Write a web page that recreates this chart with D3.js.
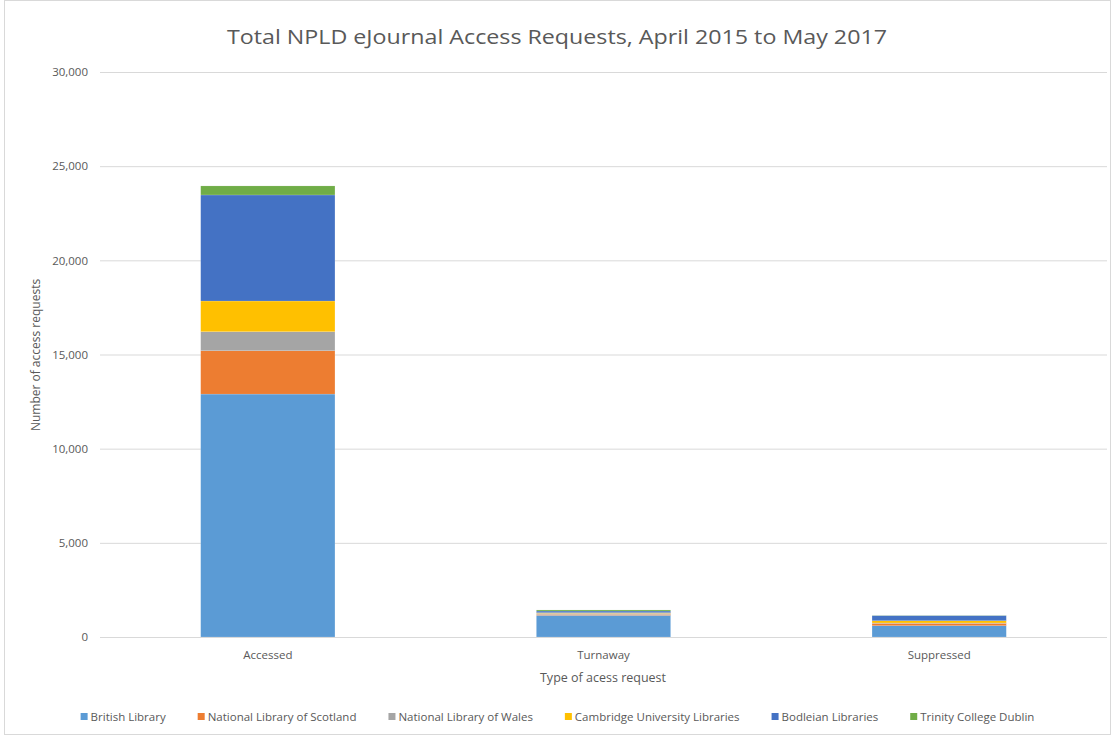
<!DOCTYPE html>
<html>
<head>
<meta charset="utf-8">
<script src="https://cdnjs.cloudflare.com/ajax/libs/d3/7.8.5/d3.min.js"></script>
<style>
  body { margin: 0; background: #fff; }
  text { font-family: "Open Sans", "Noto Sans", sans-serif; fill: #595959; }
</style>
</head>
<body>
<svg id="chart" width="1115" height="736"></svg>
<script>
// values
const categories = ["Accessed", "Turnaway", "Suppressed"];
const libraries = ["British Library", "National Library of Scotland", "National Library of Wales",
  "Cambridge University Libraries", "Bodleian Libraries", "Trinity College Dublin"];
const britishLibrary = [12900, 1150, 600];
const scotland = [2300, 50, 125];
const wales = [1010, 60, 20];
const cambridge = [1630, 30, 120];
const bodleian = [5630, 90, 270];
const trinity = [480, 55, 10];
const yTicks = [0, 5000, 10000, 15000, 20000, 25000, 30000];
const colors = ["#5B9BD5", "#ED7D31", "#A5A5A5", "#FFC000", "#4472C4", "#70AD47"];

let seriesValues = [britishLibrary, scotland, wales, cambridge, bodleian, trinity];
let rows = categories.map((c, i) => {
  let row = {category: c};
  libraries.forEach((lib, j) => row[lib] = seriesValues[j][i]);
  return row;
});

let svg = d3.select("#chart");
let plot = {left: 100, right: 1107, top: 72, bottom: 637};

// outer chart border
svg.append("rect")
  .attr("x", 4.5).attr("y", 0.5)
  .attr("width", 1106).attr("height", 734)
  .attr("fill", "none")
  .attr("stroke", "#d9d9d9");

let x = d3.scaleBand()
  .domain(categories)
  .range([plot.left, plot.right])
  .paddingInner(0.6)
  .paddingOuter(0.3);

let y = d3.scaleLinear()
  .domain([0, 30000])
  .range([plot.bottom, plot.top]);

// gridlines + y labels
let yAxis = svg.append("g")
  .attr("transform", "translate(" + plot.left + ",0)")
  .call(d3.axisLeft(y).tickValues(yTicks).tickSize(-(plot.right - plot.left)).tickPadding(12)
    .tickFormat(d3.format(",")));
yAxis.select(".domain").remove();
yAxis.selectAll("line").attr("stroke", "#d9d9d9");
yAxis.selectAll("text").attr("font-size", 11.5).attr("fill", "#595959")
  .style("font-family", "'Open Sans', sans-serif");

let stack = d3.stack().keys(libraries);
let layers = stack(rows);

svg.append("g")
  .selectAll("g")
  .data(layers)
  .enter()
  .append("g")
  .attr("fill", (d, i) => colors[i])
  .selectAll("rect")
  .data(d => d)
  .enter()
  .append("rect")
  .attr("x", d => x(d.data.category))
  .attr("width", x.bandwidth())
  .attr("y", d => y(d[1]))
  .attr("height", d => y(d[0]) - y(d[1]))
  .attr("stroke", "#fff")
  .attr("stroke-opacity", 0.6)
  .attr("stroke-width", 0.25);

// x axis
let xAxis = svg.append("g")
  .attr("transform", "translate(0," + plot.bottom + ")")
  .call(d3.axisBottom(x).tickSize(0).tickPadding(14));
xAxis.select(".domain").attr("stroke", "#d9d9d9").attr("d", "M" + plot.left + ",0.5H" + plot.right);
xAxis.selectAll("text").attr("font-size", 11.5).attr("fill", "#595959")
  .style("font-family", "'Open Sans', sans-serif");

// titles
svg.append("text")
  .attr("x", 557).attr("y", 44)
  .attr("text-anchor", "middle")
  .attr("font-size", 20)
  .attr("textLength", 660)
  .attr("lengthAdjust", "spacingAndGlyphs")
  .text("Total NPLD eJournal Access Requests, April 2015 to May 2017");

svg.append("text")
  .attr("x", 603).attr("y", 682)
  .attr("text-anchor", "middle")
  .attr("font-size", 12.5)
  .text("Type of acess request");

svg.append("text")
  .attr("transform", "translate(40,355) rotate(-90)")
  .attr("text-anchor", "middle")
  .attr("font-size", 12)
  .text("Number of access requests");

// legend, centred
let legend = svg.append("g").attr("transform", "translate(0,721)");
let items = legend.selectAll("g")
  .data(libraries)
  .enter()
  .append("g");
items.append("rect")
  .attr("width", 7).attr("height", 7)
  .attr("y", -8)
  .attr("fill", (d, i) => colors[i]);
items.append("text")
  .attr("x", 10).attr("y", 0)
  .attr("font-size", 11.5)
  .text(d => d);

let widths = [];
items.each(function() { widths.push(this.querySelector("text").getComputedTextLength() + 10); });
let gap = 32;
let total = d3.sum(widths) + gap * (widths.length - 1);
let pos = (1115 - total) / 2;
items.attr("transform", (d, i) => {
  let t = "translate(" + pos + ",0)";
  pos += widths[i] + gap;
  return t;
});
</script>
</body>
</html>
